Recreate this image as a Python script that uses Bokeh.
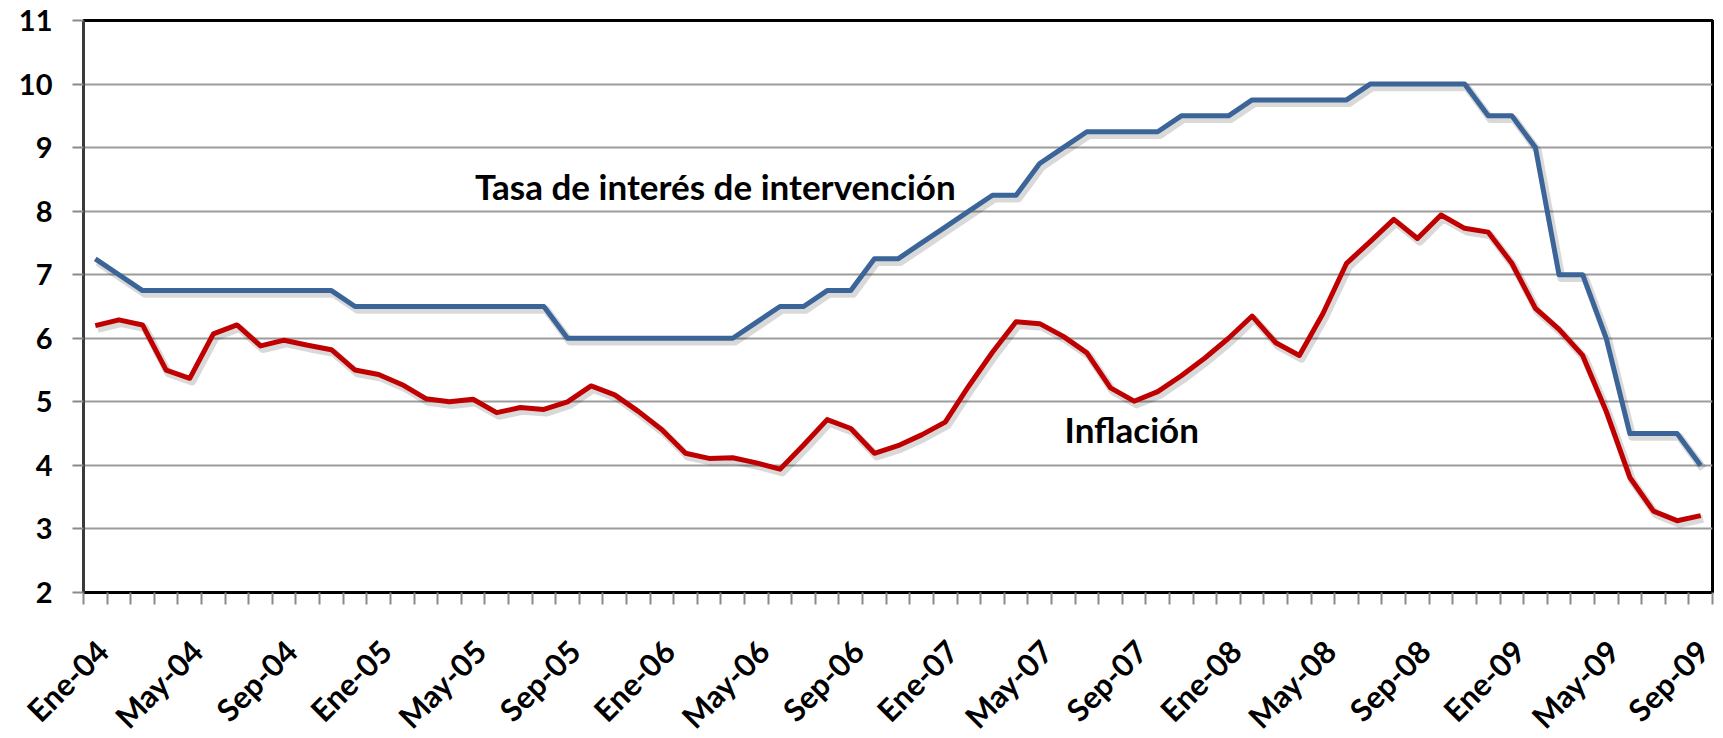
from math import pi
from bokeh.plotting import figure
from bokeh.models import FixedTicker, Label, Range1d
from bokeh.embed import file_html
from bokeh.resources import INLINE

meses = ["Ene", "Feb", "Mar", "Abr", "May", "Jun", "Jul", "Ago", "Sep", "Oct", "Nov", "Dic"]
anios = ["04", "05", "06", "07", "08", "09"]
fechas = [f"{m}-{a}" for a in anios for m in meses][:69]

tasa = [7.25, 7.0,
        6.75, 6.75, 6.75, 6.75, 6.75, 6.75, 6.75, 6.75, 6.75,
        6.5, 6.5, 6.5, 6.5, 6.5, 6.5, 6.5, 6.5, 6.5,
        6.0, 6.0, 6.0, 6.0, 6.0, 6.0, 6.0, 6.0,
        6.25, 6.5, 6.5, 6.75, 6.75, 7.25, 7.25, 7.5, 7.75, 8.0, 8.25, 8.25,
        8.75, 9.0, 9.25, 9.25, 9.25, 9.25, 9.5, 9.5, 9.5,
        9.75, 9.75, 9.75, 9.75, 9.75, 10.0, 10.0, 10.0, 10.0, 10.0,
        9.5, 9.5, 9.0, 7.0, 7.0, 6.0, 4.5, 4.5, 4.5, 4.0]

inflacion = [6.20, 6.29, 6.21, 5.50, 5.37, 6.07, 6.21, 5.88, 5.97, 5.89, 5.82, 5.50,
             5.43, 5.27, 5.05, 5.00, 5.04, 4.83, 4.91, 4.88, 5.00, 5.25, 5.11, 4.85,
             4.56, 4.19, 4.11, 4.12, 4.04, 3.94, 4.32, 4.72, 4.58, 4.19, 4.31, 4.48,
             4.68, 5.25, 5.78, 6.26, 6.23, 6.03, 5.77, 5.22, 5.01, 5.16, 5.41, 5.69,
             6.00, 6.35, 5.93, 5.73, 6.39, 7.18, 7.52, 7.87, 7.57, 7.94, 7.73, 7.67,
             7.18, 6.47, 6.14, 5.73, 4.85, 3.81, 3.28, 3.13, 3.21]

y_ticks = [2, 3, 4, 5, 6, 7, 8, 9, 10, 11]

x = list(range(len(fechas)))
label_idx = x[::4]
# rotated labels sit a little right of the category centre, as in the original
label_pos = [i + 0.3 for i in label_idx]

FONT = "Lato"

p = figure(frame_width=1629, frame_height=572, output_backend="svg", toolbar_location=None,
           x_range=Range1d(-0.5, len(fechas) - 0.5), y_range=Range1d(2, 11),
           min_border_left=83, min_border_right=4, min_border_top=20, min_border_bottom=0)
p.background_fill_color = "white"
p.border_fill_color = "white"
p.outline_line_color = "black"
p.outline_line_width = 3

# grid
p.xgrid.grid_line_color = None
p.ygrid.grid_line_color = "#9c9c9c"
p.ygrid.grid_line_width = 2
p.ygrid.ticker = FixedTicker(ticks=y_ticks)

# y axis
p.yaxis.ticker = FixedTicker(ticks=y_ticks)
p.yaxis.axis_line_color = "#3a3a3a"
p.yaxis.axis_line_width = 3
p.yaxis.major_tick_line_color = "#8a8a8a"
p.yaxis.major_tick_line_width = 2
p.yaxis.major_tick_out = 11
p.yaxis.major_tick_in = 0
p.yaxis.minor_tick_line_color = None
p.yaxis.major_label_standoff = 20
p.yaxis.major_label_text_font = FONT
p.yaxis.major_label_text_font_style = "bold"
p.yaxis.major_label_text_font_size = "29px"
p.yaxis.major_label_text_color = "black"

# x axis
bounds = [i - 0.5 for i in range(len(fechas) + 1)]
p.xaxis.ticker = FixedTicker(ticks=label_pos, minor_ticks=bounds)
p.xaxis.major_label_overrides = {pos: fechas[i] for pos, i in zip(label_pos, label_idx)}
p.xaxis.major_label_orientation = pi / 4
p.xaxis.axis_line_color = "black"
p.xaxis.axis_line_width = 3
p.xaxis.major_tick_line_color = None
p.xaxis.major_tick_out = 0
p.xaxis.minor_tick_line_color = "#8a8a8a"
p.xaxis.minor_tick_line_width = 2
p.xaxis.minor_tick_out = 12
p.xaxis.minor_tick_in = 0
p.xaxis.major_label_standoff = 41
p.xaxis.major_label_text_font = FONT
p.xaxis.major_label_text_font_style = "bold"
p.xaxis.major_label_text_font_size = "31px"
p.xaxis.major_label_text_color = "black"

# shadows
sx = [v + 0.1 for v in x]
p.line(sx, [v - 0.05 for v in tasa], line_color="black", line_alpha=0.15, line_width=8, line_join="round")
p.line(sx, [v - 0.05 for v in inflacion], line_color="black", line_alpha=0.15, line_width=8, line_join="round")

# series
p.line(x, tasa, line_color="#3b6598", line_width=5, line_join="round")
p.line(x, inflacion, line_color="#c00000", line_width=5, line_join="round")

p.add_layout(Label(x=26.26, y=8.39, text="Tasa de interés de intervención", text_align="center",
                   text_baseline="middle", text_font=FONT, text_font_style="bold",
                   text_font_size="35px", text_color="black"))
p.add_layout(Label(x=43.9, y=4.58, text="Inflación", text_align="center",
                   text_baseline="middle", text_font=FONT, text_font_style="bold",
                   text_font_size="35px", text_color="black"))

open("out.html", "w").write(file_html(p, INLINE))
